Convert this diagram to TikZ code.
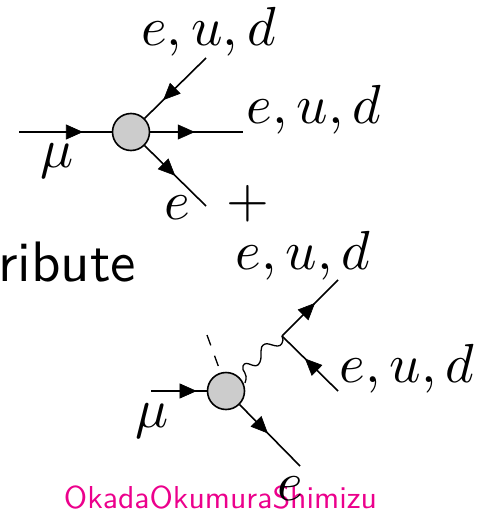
\documentclass[tikz,border=0pt]{standalone}
\usetikzlibrary{arrows.meta,decorations.markings}
\definecolor{blobgray}{gray}{0.8}
\definecolor{pinktext}{RGB}{236,0,140}
\tikzset{
  fermion/.style={line width=1.6pt,black},
  fermarrow/.style={postaction={decorate},decoration={markings,mark=at position #1 with {\arrow[line width=0.6pt]{Triangle[length=17pt,width=15pt]}}}},
  blob/.style={circle,draw=black,fill=blobgray,line width=1.6pt,minimum size=37pt,inner sep=0pt},
  mathlabel/.style={scale=5.5,inner sep=0pt,anchor=base},
  sflabel/.style={scale=#1,inner sep=0pt,anchor=base,font=\sffamily},
}
\begin{document}
\begin{tikzpicture}[x=1pt,y=-1pt]
\useasboundingbox (0,0) rectangle (476,516);
\node[blob] (b1) at (131,132) {};
\coordinate (a1) at (19,132);
\coordinate (a2) at (206,58);
\coordinate (a3) at (243,132);
\coordinate (a4) at (206,206);
\draw[fermion,fermarrow=0.69] (a1) -- (b1.west);
\draw[fermion,fermarrow=0.70] (a2) -- (b1.45);
\draw[fermion,fermarrow=0.48] (b1.east) -- (a3);
\draw[fermion,fermarrow=0.5] (b1.-45) -- (a4);
\node[blob] (b2) at (226,391) {};
\coordinate (c1) at (151,391);
\coordinate (c2) at (300,466);
\coordinate (v) at (282,336);
\coordinate (c3) at (338,280);
\coordinate (c4) at (338,391);
\coordinate (d1) at (207,335);
\coordinate (d2) at (219,368);
\draw[fermion,fermarrow=0.82] (c1) -- (b2.west);
\draw[fermion,fermarrow=0.47] (b2.-45) -- (c2);
\draw[fermion,fermarrow=0.59] (v) -- (c3);
\draw[fermion,fermarrow=0.59] (c4) -- (v);
\draw[line width=1.3pt,dash pattern=on 11pt off 11pt] (d1) -- (d2);
\draw[line width=1.3pt] (245,383)
  .. controls (249,372) and (241,372) .. (243,366)
  .. controls (246,358) and (256,372) .. (260,362)
  .. controls (263,354) and (258,347) .. (265,344)
  .. controls (270,342) and (281,352) .. (283,340)
  -- (v);
\node[mathlabel] (t1) at (208.5,46) {$e,u,d$};
\node[mathlabel] (t2) at (314,123) {$e,u,d$};
\node[mathlabel] (t3) at (303,269) {$e,u,d$};
\node[mathlabel] (t4) at (407,382) {$e,u,d$};
\node[mathlabel] (m1) at (57,167) {$\mu$};
\node[mathlabel] (m2) at (152,427) {$\mu$};
\node[mathlabel] (e1) at (177,219) {$e$};
\node[mathlabel] (plus) at (248,217) {$+$};
\node[sflabel=5.7] (rib) at (67,281) {ribute};
\node[sflabel=3.17,text=pinktext] (auth) at (220.5,508) {OkadaOkumuraShimizu};
\node[mathlabel] (e2) at (290,500) {$e$};
\end{tikzpicture}
\end{document}
